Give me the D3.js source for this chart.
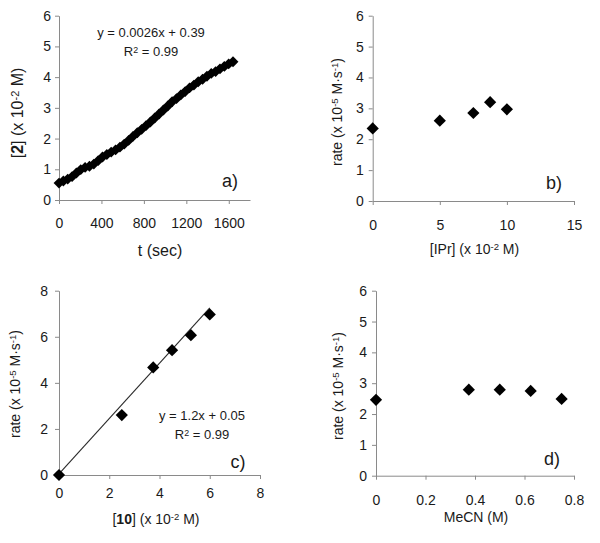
<!DOCTYPE html>
<html>
<head>
<meta charset="utf-8">
<script src="https://cdn.jsdelivr.net/npm/d3@7"></script>
<style>
  body { margin: 0; background: #fff; }
  svg { display: block; font-family: "Liberation Sans", Arial, sans-serif; }
  .axis path, .axis line { stroke: #8a8a8a; }
  .axis text { fill: #1a1a1a; font-size: 14px; font-family: "Liberation Sans", Arial, sans-serif; }
</style>
</head>
<body>
<div id="chart"></div>
<script>
// panel a: product concentration vs time
const timeA = [0, 41, 82, 123, 164, 205, 246, 287, 328, 369, 410, 451, 492, 533, 574,
  615, 656, 697, 738, 779, 820, 861, 902, 943, 984, 1025, 1066, 1107, 1148, 1189,
  1230, 1271, 1312, 1353, 1394, 1435, 1476, 1517, 1558, 1599, 1640];
const concA = [0.55, 0.62, 0.68, 0.76, 0.88, 0.99, 1.06, 1.10, 1.17, 1.28, 1.40, 1.48, 1.56, 1.63, 1.72,
  1.82, 1.94, 2.07, 2.19, 2.30, 2.42, 2.54, 2.67, 2.80, 2.93, 3.06, 3.20, 3.30, 3.42, 3.53,
  3.65, 3.74, 3.85, 3.93, 4.03, 4.12, 4.18, 4.27, 4.35, 4.43, 4.50];
const xTicksA = [0, 400, 800, 1200, 1600];
const yTicksA = [0, 1, 2, 3, 4, 5, 6];

// panel b: rate vs [IPr]
const iprB = [0, 5, 7.5, 8.75, 10];
const rateB = [2.35, 2.6, 2.85, 3.2, 2.97];
const xTicksB = [0, 5, 10, 15];
const yTicksB = [0, 1, 2, 3, 4, 5, 6];

// panel c: rate vs [10], with linear fit
const concC = [0, 2.5, 3.75, 4.5, 5.25, 6];
const rateC = [0, 2.6, 4.67, 5.42, 6.07, 6.97];
const fitC = { slope: 1.2, intercept: 0.05, from: 0, to: 6 };
const xTicksC = [0, 2, 4, 6, 8];
const yTicksC = [0, 2, 4, 6, 8];

// panel d: rate vs MeCN
const mecnD = [0, 0.375, 0.5, 0.625, 0.75];
const rateD = [2.46, 2.79, 2.79, 2.75, 2.49];
const xTicksD = [0, 0.2, 0.4, 0.6, 0.8];
const yTicksD = [0, 1, 2, 3, 4, 5, 6];

const svg = d3.select('#chart').append('svg')
  .attr('width', 600).attr('height', 543);
svg.append('rect').attr('width', 600).attr('height', 543).attr('fill', '#fff');

// write label made of parts [{t, bold, sup}]
function richText(sel, parts, size) {
  parts.forEach((p) => {
    const ts = sel.append('tspan').text(p.t);
    if (p.bold) ts.attr('font-weight', 'bold');
    if (p.sup) ts.attr('font-size', size * 0.68).attr('baseline-shift', '38%');
  });
}

function panel(cfg) {
  const x = d3.scaleLinear().domain(cfg.xDomain).range([cfg.left, cfg.right]);
  const y = d3.scaleLinear().domain(cfg.yDomain).range([cfg.bottom, cfg.top]);

  const g = svg.append('g');

  g.append('g')
    .attr('class', 'axis')
    .attr('transform', `translate(0,${cfg.bottom})`)
    .call(d3.axisBottom(x).tickValues(cfg.xTicks).tickSize(4).tickSizeOuter(0)
      .tickPadding(cfg.xPad).tickFormat(cfg.xFmt || d3.format('')));

  g.append('g')
    .attr('class', 'axis')
    .attr('transform', `translate(${cfg.left},0)`)
    .call(d3.axisLeft(y).tickValues(cfg.yTicks).tickSize(4).tickSizeOuter(0)
      .tickPadding(cfg.yPad).tickFormat(d3.format('')));

  if (cfg.fit) {
    const f = cfg.fit;
    g.append('line')
      .attr('x1', x(f.from)).attr('y1', y(f.slope * f.from + f.intercept))
      .attr('x2', x(f.to)).attr('y2', y(f.slope * f.to + f.intercept))
      .attr('stroke', '#2a2a2a').attr('stroke-width', 1.1);
  }

  const sym = d3.symbol().type(d3.symbolDiamond2).size(cfg.markSize);
  g.selectAll('path.pt')
    .data(cfg.xs.map((v, i) => [v, cfg.ys[i]]))
    .join('path')
    .attr('class', 'pt')
    .attr('d', sym)
    .attr('transform', (d) => `translate(${x(d[0])},${y(d[1])})`)
    .attr('fill', '#000');

  // axis titles
  const xt = g.append('text')
    .attr('x', cfg.xTitlePos[0]).attr('y', cfg.xTitlePos[1])
    .attr('text-anchor', 'middle').attr('font-size', cfg.titleSize).attr('fill', '#1a1a1a');
  richText(xt, cfg.xTitle, cfg.titleSize);

  const yt = g.append('text')
    .attr('transform', `translate(${cfg.yTitlePos[0]},${cfg.yTitlePos[1]}) rotate(-90)`)
    .attr('text-anchor', 'middle').attr('font-size', cfg.yTitleSize).attr('fill', '#1a1a1a');
  richText(yt, cfg.yTitle, cfg.yTitleSize);

  g.append('text')
    .attr('x', cfg.tagPos[0]).attr('y', cfg.tagPos[1])
    .attr('text-anchor', 'middle').attr('font-size', 18).attr('fill', '#1a1a1a')
    .text(cfg.tag);

  if (cfg.eq) {
    g.append('text')
      .attr('x', cfg.eqPos[0]).attr('y', cfg.eqPos[1])
      .attr('text-anchor', 'middle').attr('font-size', 13).attr('fill', '#1a1a1a')
      .text(cfg.eq);
    const r2 = g.append('text')
      .attr('x', cfg.eqPos[0]).attr('y', cfg.eqPos[1] + 19)
      .attr('text-anchor', 'middle').attr('font-size', 13).attr('fill', '#1a1a1a');
    richText(r2, [{ t: 'R' }, { t: '2', sup: true }, { t: ' = 0.99' }], 13);
  }
}

const rateTitle = [{ t: 'rate (x 10' }, { t: '-5', sup: true }, { t: ' M·s' }, { t: '-1', sup: true }, { t: ')' }];

panel({
  xs: timeA, ys: concA, xDomain: [0, 1800], yDomain: [0, 6],
  xTicks: xTicksA, yTicks: yTicksA,
  left: 59, right: 250, top: 15.7, bottom: 200, xPad: 14, yPad: 4,
  markSize: 75,
  xTitle: [{ t: 't (sec)' }], xTitlePos: [160, 256], titleSize: 16,
  yTitle: [{ t: '[' }, { t: '2', bold: true }, { t: '] (x 10' }, { t: '-2', sup: true }, { t: ' M)' }],
  yTitlePos: [23, 113], yTitleSize: 16,
  tag: 'a)', tagPos: [230, 187],
  eq: 'y = 0.0026x + 0.39', eqPos: [151, 37]
});

panel({
  xs: iprB, ys: rateB, xDomain: [0, 15], yDomain: [0, 6],
  xTicks: xTicksB, yTicks: yTicksB,
  left: 372.7, right: 574, top: 15.7, bottom: 201, xPad: 15, yPad: 5,
  markSize: 95,
  xTitle: [{ t: '[IPr] (x 10' }, { t: '-2', sup: true }, { t: ' M)' }], xTitlePos: [474.5, 254], titleSize: 14,
  yTitle: rateTitle, yTitlePos: [342, 112], yTitleSize: 14,
  tag: 'b)', tagPos: [554, 189]
});

panel({
  xs: concC, ys: rateC, xDomain: [0, 8], yDomain: [0, 8],
  xTicks: xTicksC, yTicks: yTicksC,
  left: 59, right: 260, top: 290.7, bottom: 475, xPad: 9, yPad: 7,
  markSize: 95, fit: fitC,
  xTitle: [{ t: '[' }, { t: '10', bold: true }, { t: '] (x 10' }, { t: '-2', sup: true }, { t: ' M)' }],
  xTitlePos: [156, 524], titleSize: 14,
  yTitle: rateTitle, yTitlePos: [20, 384], yTitleSize: 14,
  tag: 'c)', tagPos: [238, 468],
  eq: 'y = 1.2x + 0.05', eqPos: [202, 420]
});

panel({
  xs: mecnD, ys: rateD, xDomain: [0, 0.8], yDomain: [0, 6],
  xTicks: xTicksD, yTicks: yTicksD, xFmt: d3.format('~g'),
  left: 376, right: 574, top: 290.7, bottom: 475.7, xPad: 15, yPad: 5,
  markSize: 95,
  xTitle: [{ t: 'MeCN (M)' }], xTitlePos: [476, 522], titleSize: 14,
  yTitle: rateTitle, yTitlePos: [343, 386], yTitleSize: 14,
  tag: 'd)', tagPos: [552, 465]
});
</script>
</body>
</html>
